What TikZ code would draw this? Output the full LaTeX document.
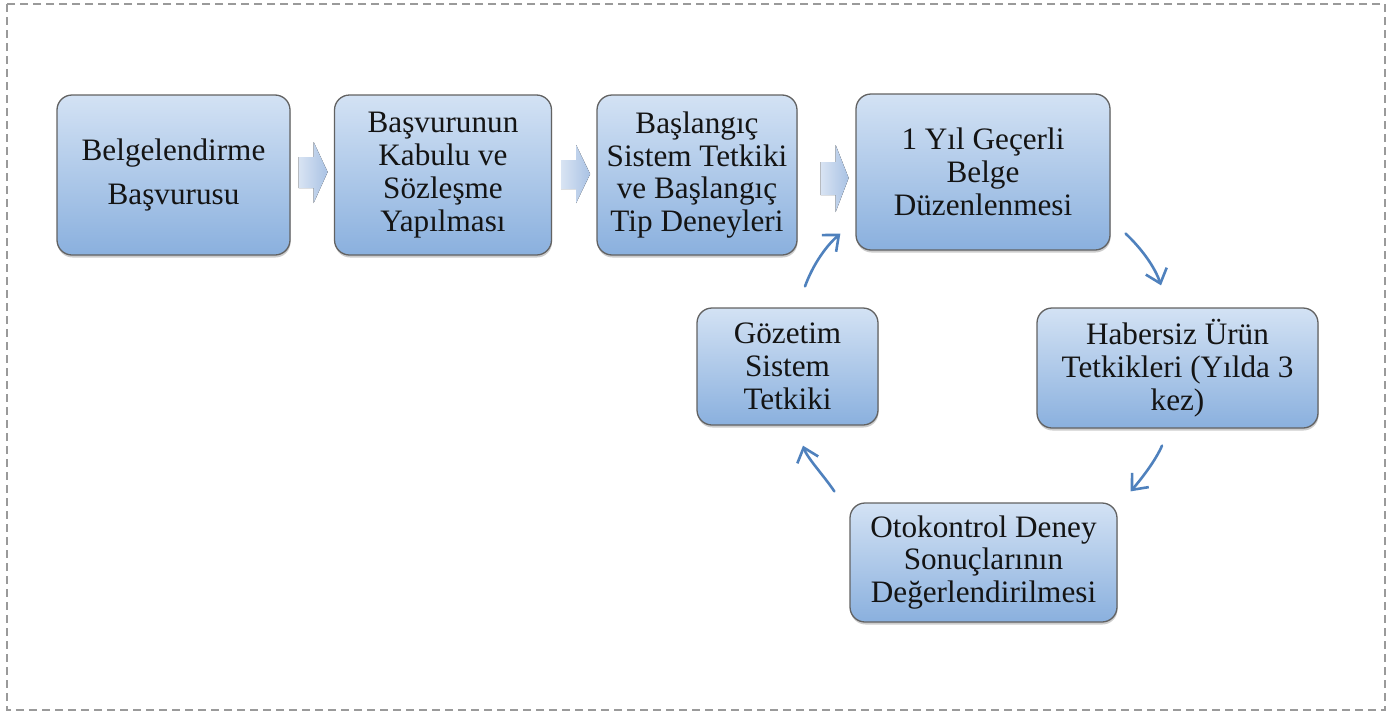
\documentclass[tikz,border=0pt]{standalone}
\usepackage{fontspec}
\setmainfont{Liberation Serif}
\usetikzlibrary{arrows.meta,shadows,calc}
\definecolor{boxtop}{HTML}{D3E2F4}
\definecolor{boxbot}{HTML}{8AB0DE}
\definecolor{edgegray}{HTML}{626262}
\definecolor{cycblue}{HTML}{4F81BD}
\definecolor{chevblue}{HTML}{A9C2E4}
\definecolor{framegray}{HTML}{9A9A9A}
\begin{document}
\begin{tikzpicture}[x=1pt,y=-1pt,
 box/.style={rounded corners=15pt, top color=boxtop, bottom color=boxbot, draw=edgegray, line width=1.3pt,
   drop shadow={shadow xshift=0.5pt,shadow yshift=-2.5pt,opacity=0.4},
   align=center, font=\fontsize{31.2}{32.8}\selectfont, inner sep=0pt, text=black!92},
 cyc/.style={draw=cycblue, line width=2.6pt, line cap=round, -{Straight Barb[length=13pt,width=22pt,line width=2.6pt]}},
 chevron/.style={left color=chevblue!45, right color=chevblue, draw=none}
]
\useasboundingbox (0,0) rectangle (1391,715);
\draw[framegray, line width=2pt, dash pattern=on 8pt off 5pt] (7,4) rectangle (1385,710);

\node[box, minimum width=233pt, minimum height=160pt] (b1) at (173.5,175) {Belgelendirme\\[12pt]Başvurusu};
\node[box, minimum width=217pt, minimum height=160pt] (b2) at (443,175) {Başvurunun\\Kabulu ve\\Sözleşme\\Yapılması};
\node[box, minimum width=200pt, minimum height=160pt] (b3) at (697,175) {Başlangıç\\Sistem Tetkiki\\ve Başlangıç\\Tip Deneyleri};
\node[box, minimum width=254pt, minimum height=156pt] (b4) at (983,172) {1 Yıl Geçerli\\Belge\\Düzenlenmesi};
\node[box, minimum width=281pt, minimum height=120pt] (b5) at (1177.5,368) {Habersiz Ürün\\Tetkikleri (Yılda 3\\kez)};
\node[box, minimum width=267pt, minimum height=119pt] (b6) at (983.5,562.5) {Otokontrol Deney\\Sonuçlarının\\Değerlendirilmesi};
\node[box, minimum width=181pt, minimum height=117pt] (b7) at (787.5,366.5) {Gözetim\\Sistem\\Tetkiki};

% block chevrons between the top boxes
\fill[chevron] ($(b1.east)+(8,-18)$) -- ++(15,0) -- ++(0,-15) -- ++(14,30) -- ++(-14,31) -- ++(0,-15) -- ++(-15,0) -- cycle;
\fill[chevron] ($(b2.east)+(9,-15)$) -- ++(15,0) -- ++(0,-15) -- ++(14,29) -- ++(-14,29) -- ++(0,-14) -- ++(-15,0) -- cycle;
\fill[chevron] ($(b3.east)+(23,-13)$) -- ++(15,0) -- ++(0,-17) -- ++(13,33) -- ++(-13,34) -- ++(0,-17) -- ++(-15,0) -- cycle;

% cycle arrows
\draw[cyc] ($(b4.south east)+(15,-17)$) .. controls +(16,15) and +(-6,-18) .. ($(b5.north)+(-16.5,-22)$);
\draw[cyc] ($(b5.south)+(-15.5,17)$) .. controls +(-6,14) and +(12,-14) .. ($(b6.north east)+(13,-11)$);
\draw[cyc] ($(b6.north west)+(-15,-11)$) .. controls +(-10,-15) and +(4,12) .. ($(b7.south)+(15.5,20)$);
\draw[cyc] ($(b7.north)+(17.5,-21)$) .. controls +(8,-22) and +(-14,12) .. ($(b4.south west)+(-15,-17)$);
\end{tikzpicture}
\end{document}
